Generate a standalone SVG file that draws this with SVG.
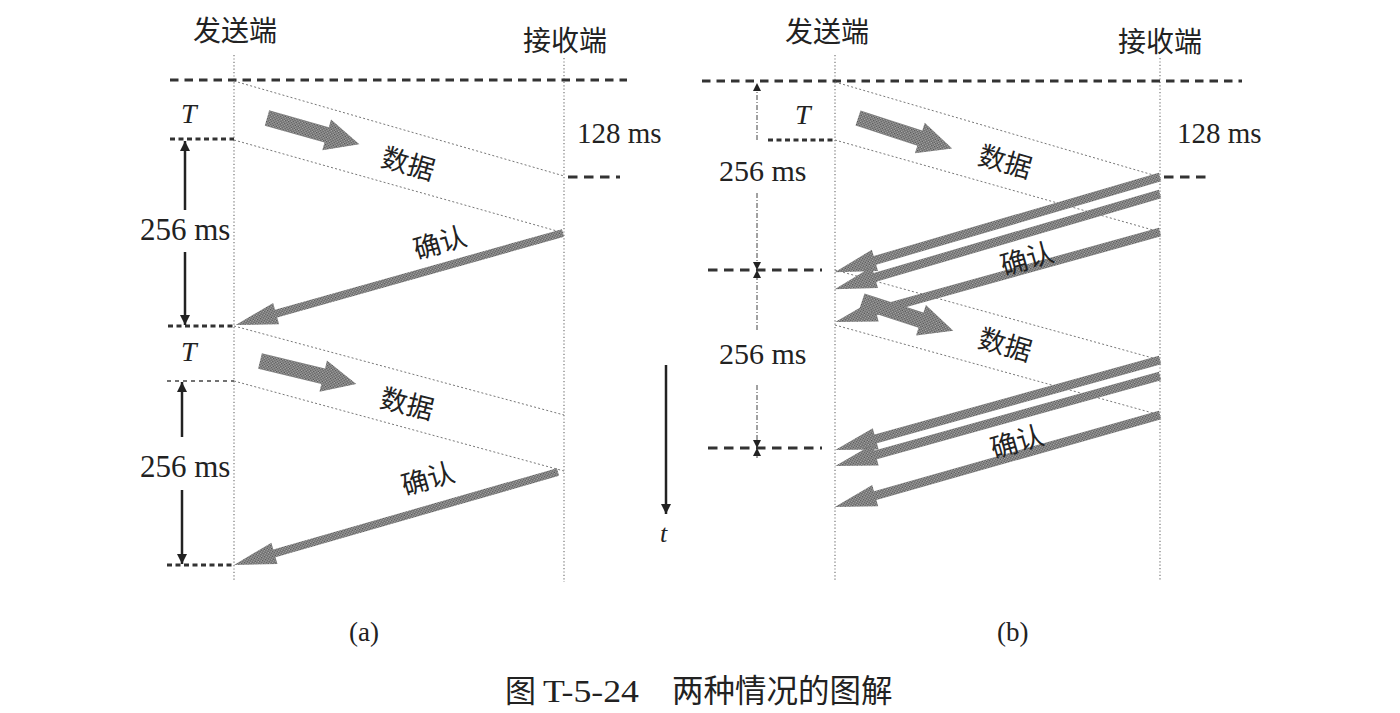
<svg xmlns="http://www.w3.org/2000/svg" width="1400" height="713" viewBox="0 0 1400 713">
<style>
.cjk{font-family:"Noto Sans CJK SC","Noto Sans",sans-serif;fill:#222}
.ser{font-family:"Liberation Serif","Times New Roman",serif;fill:#222}
.it{font-family:"Liberation Serif","Times New Roman",serif;font-style:italic;fill:#222}
.lane{stroke:#777;stroke-width:1.2;stroke-dasharray:1.2 2.2;fill:none}
.dot{stroke:#777;stroke-width:1;stroke-dasharray:2 2.2;fill:none}
.dtop{stroke:#333;stroke-width:3.2;stroke-dasharray:8.5 6;fill:none}
.dsh{stroke:#333;stroke-width:3;stroke-dasharray:5 3.5;fill:none}
.dthin{stroke:#444;stroke-width:1.3;stroke-dasharray:4 4;fill:none}
.dlong{stroke:#333;stroke-width:3;stroke-dasharray:9.5 6.5;fill:none}
.blk{fill:url(#hatch)}
.dim{stroke:#222;stroke-width:2.5;fill:none}
.dimthin{stroke:#444;stroke-width:1;stroke-dasharray:5 2 1 2;fill:none}
</style>
<defs>
<pattern id="hatch" width="3" height="3" patternUnits="userSpaceOnUse">
<rect width="3" height="3" fill="#b0b0b0"/>
<rect width="1.5" height="1.5" fill="#505050"/>
<rect x="1.5" y="1.5" width="1.5" height="1.5" fill="#505050"/>
</pattern>
<marker id="ah" viewBox="0 0 10 10" refX="10" refY="5" markerWidth="14" markerHeight="10" markerUnits="userSpaceOnUse" orient="auto">
<path d="M0,0 L10,5 L0,10 z" fill="#222"/>
</marker>
<marker id="ahs" viewBox="0 0 10 10" refX="10" refY="5" markerWidth="9" markerHeight="8" markerUnits="userSpaceOnUse" orient="auto">
<path d="M0,0 L10,5 L0,10 z" fill="#222"/>
</marker>
</defs>

<!-- ===== Panel (a) ===== -->
<g id="a-labels">
<text class="cjk" x="193" y="41" font-size="28">发送端</text>
<text class="cjk" x="523" y="51" font-size="28">接收端</text>
<text class="ser" x="577" y="143" font-size="29">128 ms</text>
<text class="it" x="181" y="123" font-size="28">T</text>
<text class="it" x="181" y="361" font-size="28">T</text>
<text class="ser" x="140" y="240" font-size="31">256 ms</text>
<text class="ser" x="140" y="477" font-size="31">256 ms</text>
<text class="ser" x="349" y="641" font-size="27">(a)</text>
</g>
<g id="a-lanes">
<line class="lane" x1="234" y1="55" x2="234" y2="582"/>
<line class="lane" x1="564" y1="58" x2="564" y2="582"/>
</g>
<g id="a-guides">
<line class="dtop" x1="170" y1="80" x2="627" y2="80"/>
<line class="dsh" x1="170" y1="139" x2="234" y2="139"/>
<line class="dlong" x1="568" y1="177" x2="620" y2="177"/>
<line class="dsh" x1="168" y1="326" x2="234" y2="326"/>
<line class="dthin" x1="167" y1="381" x2="234" y2="381"/>
<line class="dsh" x1="167" y1="565" x2="234" y2="565"/>
</g>
<g id="a-dims">
<line class="dim" x1="185" y1="210" x2="185" y2="141" marker-end="url(#ah)"/>
<line class="dim" x1="185" y1="252" x2="185" y2="325" marker-end="url(#ah)"/>
<line class="dim" x1="182" y1="437" x2="182" y2="382" marker-end="url(#ah)"/>
<line class="dim" x1="182" y1="490" x2="182" y2="564" marker-end="url(#ah)"/>
</g>
<g id="a-connectors">
<line class="dot" x1="234" y1="81" x2="564" y2="176"/>
<line class="dot" x1="234" y1="140" x2="564" y2="233"/>
<line class="dot" x1="234" y1="326" x2="564" y2="415"/>
<line class="dot" x1="234" y1="381" x2="564" y2="471"/>
<polygon class="blk" points="0,-8 62,-8 62,-16 96,0 62,16 62,8 0,8" transform="translate(267,118) rotate(15.8)"/>
<polygon class="blk" points="0,-4 298,-4 298,-11 340,0 298,11 298,4 0,4" transform="translate(563,233) rotate(164.3)"/>
<polygon class="blk" points="0,-8 65,-8 65,-16 99,0 65,16 65,8 0,8" transform="translate(260,361) rotate(13.5)"/>
<polygon class="blk" points="0,-4 295,-4 295,-11 337,0 295,11 295,4 0,4" transform="translate(558,472) rotate(164)"/>
<text class="cjk" font-size="27" text-anchor="middle" dy="0.35em" transform="translate(408,164) rotate(16)">数据</text>
<text class="cjk" font-size="27" text-anchor="middle" dy="0.35em" transform="translate(440,243) rotate(-16)">确认</text>
<text class="cjk" font-size="27" text-anchor="middle" dy="0.35em" transform="translate(407,404) rotate(14)">数据</text>
<text class="cjk" font-size="27" text-anchor="middle" dy="0.35em" transform="translate(428,479) rotate(-16)">确认</text>
</g>

<!-- time axis -->
<g id="time-axis">
<line class="dim" x1="666" y1="365" x2="666" y2="514" marker-end="url(#ah)"/>
<text class="it" x="660" y="542" font-size="26">t</text>
</g>

<!-- ===== Panel (b) ===== -->
<g id="b-labels">
<text class="cjk" x="785" y="42" font-size="28">发送端</text>
<text class="cjk" x="1118" y="52" font-size="28">接收端</text>
<text class="ser" x="1177" y="143" font-size="29">128 ms</text>
<text class="it" x="795" y="124" font-size="28">T</text>
<text class="ser" x="719" y="181" font-size="30">256 ms</text>
<text class="ser" x="719" y="364" font-size="30">256 ms</text>
<text class="ser" x="997" y="641" font-size="27">(b)</text>
</g>
<g id="b-lanes">
<line class="lane" x1="835" y1="55" x2="835" y2="580"/>
<line class="lane" x1="1160" y1="58" x2="1160" y2="580"/>
</g>
<g id="b-guides">
<line class="dtop" x1="702" y1="81" x2="1242" y2="81"/>
<line class="dsh" x1="768" y1="140" x2="835" y2="140"/>
<line class="dlong" x1="1164" y1="177" x2="1212" y2="177"/>
<line class="dlong" x1="708" y1="270" x2="822" y2="270"/>
<line class="dlong" x1="708" y1="448" x2="822" y2="448"/>
</g>
<g id="b-dims">
<line class="dimthin" x1="757" y1="140" x2="757" y2="83" marker-end="url(#ahs)"/>
<line class="dimthin" x1="757" y1="193" x2="757" y2="270" marker-end="url(#ahs)"/>
<line class="dimthin" x1="757" y1="330" x2="757" y2="270" marker-end="url(#ahs)"/>
<line class="dimthin" x1="757" y1="385" x2="757" y2="448" marker-end="url(#ahs)"/>
<line class="dimthin" x1="757" y1="458" x2="757" y2="448" marker-end="url(#ahs)"/>
</g>
<g id="b-connectors">
<line class="dot" x1="835" y1="82" x2="1160" y2="177"/>
<line class="dot" x1="835" y1="140" x2="1160" y2="232"/>
<line class="dot" x1="835" y1="270" x2="1160" y2="360"/>
<line class="dot" x1="835" y1="325" x2="1160" y2="415"/>
<polygon class="blk" points="0,-8 65,-8 65,-16 99,0 65,16 65,8 0,8" transform="translate(858,118) rotate(18)"/>
<polygon class="blk" points="0,-4.5 297,-4.5 297,-11 339,0 297,11 297,4.5 0,4.5" transform="translate(1160,177) rotate(163.7)"/>
<polygon class="blk" points="0,-4.5 297,-4.5 297,-11 339,0 297,11 297,4.5 0,4.5" transform="translate(1160,194) rotate(163.7)"/>
<polygon class="blk" points="0,-4.5 295,-4.5 295,-11 337,0 295,11 295,4.5 0,4.5" transform="translate(1160,232) rotate(164.5)"/>
<polygon class="blk" points="0,-8 62,-8 62,-16 96,0 62,16 62,8 0,8" transform="translate(862,301) rotate(18)"/>
<polygon class="blk" points="0,-4.5 295,-4.5 295,-11 337,0 295,11 295,4.5 0,4.5" transform="translate(1160,360) rotate(164.5)"/>
<polygon class="blk" points="0,-4.5 295,-4.5 295,-11 337,0 295,11 295,4.5 0,4.5" transform="translate(1160,376) rotate(164.5)"/>
<polygon class="blk" points="0,-4.5 296,-4.5 296,-11 338,0 296,11 296,4.5 0,4.5" transform="translate(1160,415) rotate(164.2)"/>
<text class="cjk" font-size="27" text-anchor="middle" dy="0.35em" transform="translate(1005,162) rotate(16)">数据</text>
<text class="cjk" font-size="27" text-anchor="middle" dy="0.35em" transform="translate(1027,259) rotate(-16)">确认</text>
<text class="cjk" font-size="27" text-anchor="middle" dy="0.35em" transform="translate(1005,345) rotate(16)">数据</text>
<text class="cjk" font-size="27" text-anchor="middle" dy="0.35em" transform="translate(1017,442) rotate(-16)">确认</text>
</g>

<!-- caption -->
<g id="caption">
<text class="cjk" x="505" y="702" font-size="31">图</text>
<text class="ser" x="543" y="702" font-size="31" textLength="96" lengthAdjust="spacingAndGlyphs">T-5-24</text>
<text class="cjk" x="672" y="702" font-size="31.5">两种情况的图解</text>
</g>
</svg>
